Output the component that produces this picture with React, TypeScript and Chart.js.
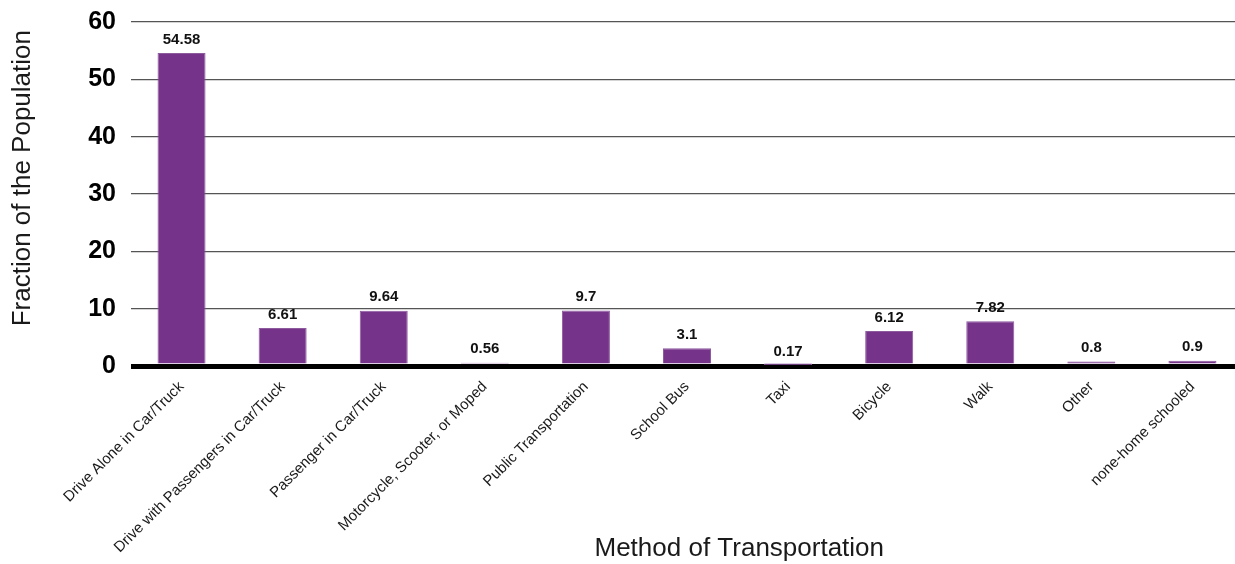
import React, { useEffect, useRef } from "react";
import { Chart, registerables } from "chart.js";

Chart.register(...registerables);

// Share of the population by method of transportation
const categories = [
  "Drive Alone in Car/Truck",
  "Drive with Passengers in Car/Truck",
  "Passenger in Car/Truck",
  "Motorcycle, Scooter, or Moped",
  "Public Transportation",
  "School Bus",
  "Taxi",
  "Bicycle",
  "Walk",
  "Other",
  "none-home schooled",
];
const shares = [54.58, 6.61, 9.64, 0.56, 9.7, 3.1, 0.17, 6.12, 7.82, 0.8, 0.9];

const yMin = 0;
const yMax = 60;
const yStep = 10;

const xTitle = "Method of Transportation";
const yTitle = "Fraction of the Population";

const FONT = "'Liberation Sans', Arial, Helvetica, sans-serif";
const BAR_COLOR = "#76338a";

// Value labels above each bar plus both axis titles
const annotate = {
  id: "annotate",
  afterDatasetsDraw(chart: any) {
    const { ctx, chartArea } = chart;
    const meta = chart.getDatasetMeta(0);
    ctx.save();
    ctx.fillStyle = "#111";
    ctx.font = `bold 15px ${FONT}`;
    ctx.textAlign = "center";
    ctx.textBaseline = "bottom";
    meta.data.forEach((bar: any, i: number) => {
      ctx.fillText(String(shares[i]), bar.x, bar.y - 6);
    });
    ctx.restore();

    ctx.save();
    ctx.fillStyle = "#1a1a1a";
    ctx.font = `26px ${FONT}`;
    ctx.textAlign = "center";
    ctx.textBaseline = "middle";
    ctx.fillText(
      xTitle,
      chartArea.left + chartArea.width * 0.547,
      chart.height - 15
    );
    ctx.translate(23, chartArea.top + (chartArea.bottom - chartArea.top) * 0.454);
    ctx.rotate(-Math.PI / 2);
    ctx.fillText(yTitle, 0, 0);
    ctx.restore();
  },
};

function TransportChart() {
  const canvasRef = useRef<HTMLCanvasElement | null>(null);

  useEffect(() => {
    const canvas = canvasRef.current;
    if (!canvas) return;
    const chart = new Chart(canvas, {
      type: "bar",
      data: {
        labels: categories,
        datasets: [
          {
            data: shares,
            backgroundColor: BAR_COLOR,
            borderColor: "#8d5a9e",
            borderWidth: 1,
            categoryPercentage: 1,
            barPercentage: 0.475,
          },
        ],
      },
      options: {
        animation: false,
        responsive: false,
        maintainAspectRatio: false,
        layout: { padding: { top: 22, right: 1, left: 0, bottom: 0 } },
        plugins: {
          legend: { display: false },
          tooltip: { enabled: false },
          title: { display: false },
        },
        scales: {
          x: {
            grid: { display: false },
            border: { display: false },
            ticks: {
              autoSkip: false,
              minRotation: 45,
              maxRotation: 45,
              padding: 4,
              color: "#1a1a1a",
              font: { family: FONT, size: 15 },
            },
            afterFit(scale: any) {
              scale.height = 198;
              scale.paddingLeft = 0;
              scale.paddingRight = 0;
            },
          },
          y: {
            min: yMin,
            max: yMax,
            border: { display: false },
            grid: {
              drawTicks: false,
              color: (c: any) => (c.tick && c.tick.value === 0 ? "#000" : "#555"),
              lineWidth: (c: any) => (c.tick && c.tick.value === 0 ? 5 : 1.2),
            },
            ticks: {
              stepSize: yStep,
              padding: 15,
              color: "#000",
              font: { family: FONT, size: 25, weight: "bold" },
            },
            afterFit(scale: any) {
              scale.width = 131;
              scale.paddingTop = 0;
              scale.paddingBottom = 0;
            },
          },
        },
      },
      plugins: [annotate],
    });
    return () => chart.destroy();
  }, []);

  return <canvas ref={canvasRef} width={1244} height={564} style={{ display: "block" }} />;
}

export default function App() {
  return (
    <div
      style={{
        position: "fixed",
        left: 0,
        top: 0,
        width: 1235,
        height: 564,
        overflow: "hidden",
        background: "#fff",
      }}
    >
      <TransportChart />
    </div>
  );
}
